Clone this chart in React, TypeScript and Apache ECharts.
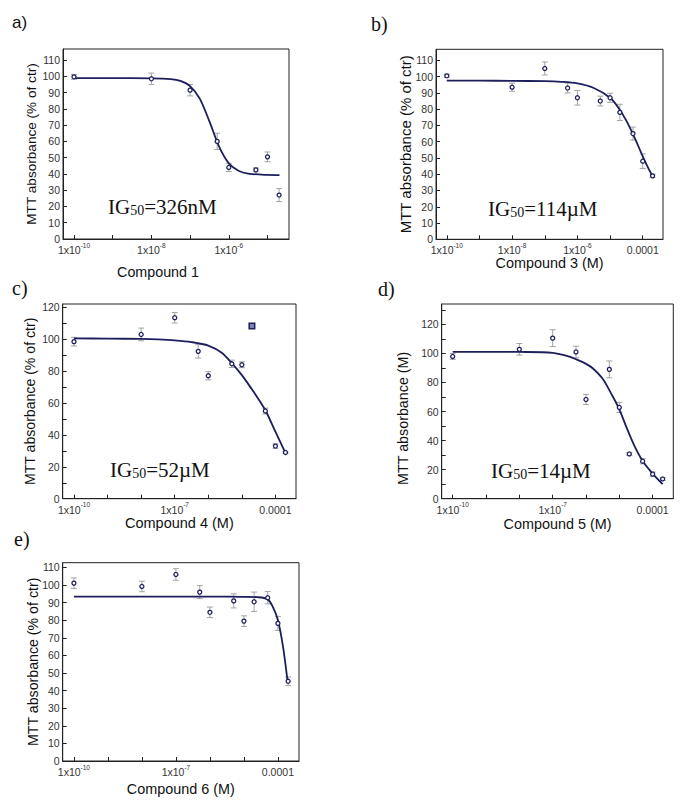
import React, { useEffect, useRef } from 'react';
import * as echarts from 'echarts';

// x values are log10 of the concentration (M)
const concLog = [-10, -8, -7, -6.3, -6, -5.3, -5, -4.7, -4.3, -4, -3.7];

// Panel a – Compound 1
const aLogC = [-10, -8, -7, -6.3, -6, -5.3, -5, -4.7];
const aMean = [99.7, 98.5, 91.5, 60, 44, 42.5, 50.5, 27];
const aErr = [1.5, 3.5, 3.5, 5, 2.5, 1.2, 3, 4];
const aFitX = [-10, -9, -8, -7.5, -7.25, -7, -6.75, -6.5, -6.25, -6, -5.75, -5.5, -5, -4.69];
const aFitY = [98.9, 98.9, 98.8, 98.3, 97.2, 94, 86.3, 72.3, 56.8, 46.6, 42, 40.2, 39.4, 39.3];

// Panel b – Compound 3
const bMean = [100.5, 93.5, 105, 93, 87, 85, 87, 78, 65, 48, 39];
const bErr = [1, 2.5, 4, 3, 4.5, 3, 2.8, 5, 4, 4.5, 1];
const bFitX = [-10, -9, -8, -7, -6.5, -6, -5.5, -5, -4.75, -4.5, -4.25, -4, -3.8, -3.67];
const bFitY = [97.5, 97.5, 97.4, 97.2, 96.8, 95.8, 93, 87, 81, 72.8, 62.5, 51, 42.5, 37.8];

// Panel c – Compound 4
const cLogC = [-10, -8, -7, -6.3, -6, -5.3, -5, -4.3, -4, -3.7];
const cMean = [98.5, 103, 113.5, 92.4, 77.1, 84.6, 84, 55, 33, 29];
const cErr = [2.7, 4, 3.3, 4.2, 2.6, 2.3, 1.8, 1.8, 1.4, 0.6];
const cSquareLogC = [-4.7];
const cSquareMean = [108.3];
const cSquareErr = [0.8];
const cFitX = [-10, -9, -8, -7.5, -7, -6.5, -6, -5.6, -5.3, -5, -4.65, -4.3, -4, -3.71];
const cFitY = [100.5, 100.4, 100.2, 99.9, 99.3, 98.2, 96, 91.5, 85, 77.5, 67, 55.5, 42, 29];

// Panel d – Compound 5
const dMean = [97.9, 102.8, 110.5, 101, 68.3, 89, 62.8, 30.8, 25.8, 16.9, 13.6];
const dErr = [2, 4, 5.8, 4, 3.5, 5.8, 3.5, 1, 1.8, 1.5, 1];
const dFitX = [-10, -9, -8, -7, -6.5, -6.2, -6, -5.8, -5.5, -5.2, -5, -4.8, -4.55, -4.3, -4, -3.7];
const dFitY = [101.1, 101.1, 101, 100.4, 97.8, 95, 92.8, 89.8, 82.5, 70.5, 61.5, 50, 36.5, 26, 17.3, 10];

// Panel e – Compound 6
const eMean = [101.1, 99.2, 106, 96, 84.5, 91, 79.5, 90.5, 92.8, 78.2, 45.3];
const eErr = [3, 3, 3.3, 3.7, 3, 4, 3, 5.5, 3.5, 4, 2.5];
const eFitX = [-10, -8, -6, -5, -4.6, -4.31, -4.16, -4, -3.85, -3.71];
const eFitY = [93.4, 93.4, 93.4, 93.3, 93.1, 92, 88, 80, 65, 44.3];

// Ticks and tick labels
const aXTicks = [-10, -9, -8, -7, -6, -5];
const aXLabels = [-10, -8, -6];
const bXTicks = [-10, -9, -8, -7, -6, -5, -4];
const bXLabels = [-10, -8, -6, -4];
const cdeXTicks = [-10, -9, -8, -7, -6, -5, -4];
const cdeXLabels = [-10, -7, -4];
const y110Ticks = [0, 10, 20, 30, 40, 50, 60, 70, 80, 90, 100, 110];
const c120Ticks = [0, 10, 20, 30, 40, 50, 60, 70, 80, 90, 100, 110, 120];
const d130Ticks = [0, 10, 20, 30, 40, 50, 60, 70, 80, 90, 100, 110, 120, 130];
const by20Labels = [0, 20, 40, 60, 80, 100, 120];

const SANS = 'Liberation Sans';
const SERIF = 'Liberation Serif';
const NAVY = '#1c1f5c';
const FRAME = '#222';

type Panel = {
  grid: { left: number; top: number; width: number; height: number };
  xMin: number; xMax: number; yMax: number;
  xTicks: number[]; xLabels: number[]; yTicks: number[]; yLabels: number[];
  yName: string; yNameSize: number; yNameGap: number; yNamePad: number[];
  xName: string; xNameSize: number; xNameGap: number; xNamePad: number[];
  logC: number[]; mean: number[]; err: number[]; fitX: number[]; fitY: number[];
};

const panels: Panel[] = [
  {
    grid: { left: 63, top: 49, width: 226, height: 190 },
    xMin: -10.284, xMax: -4.444, yMax: 116.8,
    xTicks: aXTicks, xLabels: aXLabels, yTicks: y110Ticks, yLabels: y110Ticks,
    yName: 'MTT absorbance (% of ctr)', yNameSize: 13.6, yNameGap: 24.5, yNamePad: [0, 0, 0, 0],
    xName: 'Compound 1', xNameSize: 14.3, xNameGap: 26, xNamePad: [0, 36, 0, 0],
    logC: aLogC, mean: aMean, err: aErr, fitX: aFitX, fitY: aFitY,
  },
  {
    grid: { left: 436, top: 49.3, width: 227, height: 190 },
    xMin: -10.33, xMax: -3.38, yMax: 116.8,
    xTicks: bXTicks, xLabels: bXLabels, yTicks: y110Ticks, yLabels: y110Ticks,
    yName: 'MTT absorbance (% of ctr)', yNameSize: 15, yNameGap: 23.5, yNamePad: [0, 0, 0, 0],
    xName: 'Compound 3 (M)', xNameSize: 14.4, xNameGap: 16.5, xNamePad: [0, 0, 0, 0],
    logC: concLog, mean: bMean, err: bErr, fitX: bFitX, fitY: bFitY,
  },
  {
    grid: { left: 62.7, top: 304, width: 233.3, height: 194.7 },
    xMin: -10.337, xMax: -3.387, yMax: 122.1,
    xTicks: cdeXTicks, xLabels: cdeXLabels, yTicks: c120Ticks, yLabels: by20Labels,
    yName: 'MTT absorbance (% of ctr)', yNameSize: 14.1, yNameGap: 25.5, yNamePad: [0, 0, 0, 0],
    xName: 'Compound 4 (M)', xNameSize: 14.5, xNameGap: 16.5, xNamePad: [0, 0, 0, 0],
    logC: cLogC, mean: cMean, err: cErr, fitX: cFitX, fitY: cFitY,
  },
  {
    grid: { left: 441.7, top: 304, width: 231.6, height: 194.7 },
    xMin: -10.33, xMax: -3.38, yMax: 134,
    xTicks: cdeXTicks, xLabels: cdeXLabels, yTicks: d130Ticks, yLabels: by20Labels,
    yName: 'MTT absorbance (M)', yNameSize: 14.3, yNameGap: 32, yNamePad: [0, 34, 0, 0],
    xName: 'Compound 5 (M)', xNameSize: 14.4, xNameGap: 18.5, xNamePad: [0, 0, 0, 0],
    logC: concLog, mean: dMean, err: dErr, fitX: dFitX, fitY: dFitY,
  },
  {
    grid: { left: 62.7, top: 562.7, width: 236.3, height: 198.3 },
    xMin: -10.33, xMax: -3.38, yMax: 112.7,
    xTicks: cdeXTicks, xLabels: cdeXLabels, yTicks: y110Ticks, yLabels: y110Ticks,
    yName: 'MTT absorbance (% of ctr)', yNameSize: 14.2, yNameGap: 23, yNamePad: [0, 0, 0, 0],
    xName: 'Compound 6 (M)', xNameSize: 14.4, xNameGap: 21, xNamePad: [0, 0, 0, 0],
    logC: concLog, mean: eMean, err: eErr, fitX: eFitX, fitY: eFitY,
  },
];

const errorBarRender = (params: any, api: any) => {
  const x = api.value(0);
  const y = api.value(1);
  const e = api.value(2);
  const top = api.coord([x, y + e]);
  const bot = api.coord([x, y - e]);
  const cap = 3;
  const style = { stroke: '#9a9a9a', lineWidth: 0.9 };
  return {
    type: 'group',
    children: [
      { type: 'line', shape: { x1: top[0], y1: top[1], x2: bot[0], y2: bot[1] }, style },
      { type: 'line', shape: { x1: top[0] - cap, y1: top[1], x2: top[0] + cap, y2: top[1] }, style },
      { type: 'line', shape: { x1: bot[0] - cap, y1: bot[1], x2: bot[0] + cap, y2: bot[1] }, style },
    ],
  };
};

const xLabelFormatter = (v: number) =>
  v === -4 ? '{n|0.0001}' : '{n|1x10}{s|' + String(v) + '}';

function buildOption() {
  const grid: any[] = [];
  const xAxis: any[] = [];
  const yAxis: any[] = [];
  const series: any[] = [];

  panels.forEach((p, i) => {
    grid.push({ ...p.grid, show: true, borderColor: FRAME, borderWidth: 1, containLabel: false });
    xAxis.push({
      gridIndex: i,
      type: 'value',
      min: p.xMin,
      max: p.xMax,
      axisLine: { show: true, onZero: false, lineStyle: { color: FRAME, width: 1 } },
      axisTick: { show: true, inside: true, length: 4, customValues: p.xTicks, lineStyle: { color: FRAME, width: 1 } },
      axisLabel: {
        show: true,
        customValues: p.xLabels,
        margin: 2.5,
        formatter: xLabelFormatter,
        rich: {
          n: { fontFamily: SANS, fontSize: 10.5, lineHeight: 14, color: '#333', verticalAlign: 'bottom' },
          s: { fontFamily: SANS, fontSize: 6.5, lineHeight: 7, color: '#333', verticalAlign: 'top' },
        },
      },
      splitLine: { show: false },
      name: p.xName,
      nameLocation: 'middle',
      nameGap: p.xNameGap,
      nameMoveOverlap: false,
      nameTextStyle: { fontFamily: SANS, fontSize: p.xNameSize, color: '#111', padding: p.xNamePad },
    });
    yAxis.push({
      gridIndex: i,
      type: 'value',
      min: 0,
      max: p.yMax,
      axisLine: { show: true, onZero: false, lineStyle: { color: FRAME, width: 1 } },
      axisTick: { show: true, inside: true, length: 4, customValues: p.yTicks, lineStyle: { color: FRAME, width: 1 } },
      axisLabel: {
        show: true,
        customValues: p.yLabels,
        margin: 3,
        fontFamily: SANS,
        fontSize: 10.5,
        color: '#333',
      },
      splitLine: { show: false },
      name: p.yName,
      nameLocation: 'middle',
      nameGap: p.yNameGap,
      nameMoveOverlap: false,
      nameTextStyle: { fontFamily: SANS, fontSize: p.yNameSize, color: '#111', padding: p.yNamePad },
    });

    series.push({
      type: 'custom',
      xAxisIndex: i,
      yAxisIndex: i,
      renderItem: errorBarRender,
      data: p.logC.map((x, j) => [x, p.mean[j], p.err[j]]),
      z: 2,
      silent: true,
    });
    series.push({
      type: 'line',
      xAxisIndex: i,
      yAxisIndex: i,
      data: p.fitX.map((x, j) => [x, p.fitY[j]]),
      smooth: 0.3,
      symbol: 'none',
      lineStyle: { color: NAVY, width: 1.8 },
      z: 3,
      silent: true,
    });
    series.push({
      type: 'scatter',
      xAxisIndex: i,
      yAxisIndex: i,
      data: p.logC.map((x, j) => [x, p.mean[j]]),
      symbol: 'circle',
      symbolSize: 4,
      itemStyle: { color: '#ffffff', borderColor: NAVY, borderWidth: 1.3, opacity: 1 },
      z: 4,
      silent: true,
    });
  });

  // extra square marker in panel c
  series.push({
    type: 'custom',
    xAxisIndex: 2,
    yAxisIndex: 2,
    renderItem: errorBarRender,
    data: cSquareLogC.map((x, j) => [x, cSquareMean[j], cSquareErr[j]]),
    z: 2,
    silent: true,
  });
  series.push({
    type: 'scatter',
    xAxisIndex: 2,
    yAxisIndex: 2,
    data: cSquareLogC.map((x, j) => [x, cSquareMean[j]]),
    symbol: 'rect',
    symbolSize: 5.5,
    itemStyle: { color: '#8084b8', borderColor: NAVY, borderWidth: 1.5, opacity: 1 },
    z: 4,
    silent: true,
  });

  const letterStyle = (family: string, size: number) => ({
    fontFamily: family, fontSize: size, fontWeight: 'normal', color: '#111',
  });
  const igRich = {
    b: { fontFamily: SERIF, fontSize: 21, lineHeight: 21, fontWeight: 'normal', color: '#111', verticalAlign: 'bottom' },
    s: { fontFamily: SERIF, fontSize: 14, lineHeight: 14, fontWeight: 'normal', color: '#111', verticalAlign: 'bottom' },
  };
  const title = [
    { text: 'a)', left: 12, top: 14, padding: 0, textStyle: letterStyle(SANS, 17) },
    { text: 'b)', left: 371, top: 14, padding: 0, textStyle: letterStyle(SERIF, 20) },
    { text: 'c)', left: 12, top: 278, padding: 0, textStyle: letterStyle(SERIF, 20) },
    { text: 'd)', left: 378, top: 279, padding: 0, textStyle: letterStyle(SERIF, 20) },
    { text: 'e)', left: 14, top: 529, padding: 0, textStyle: letterStyle(SERIF, 20) },
    { text: '{b|IG}{s|50}{b|=326nM}', left: 108, top: 196.5, padding: 0, textStyle: { rich: igRich } },
    { text: '{b|IG}{s|50}{b|=114µM}', left: 488, top: 198, padding: 0, textStyle: { rich: igRich } },
    { text: '{b|IG}{s|50}{b|=52µM}', left: 110, top: 459, padding: 0, textStyle: { rich: igRich } },
    { text: '{b|IG}{s|50}{b|=14µM}', left: 491, top: 460, padding: 0, textStyle: { rich: igRich } },
  ];

  return {
    animation: false,
    backgroundColor: '#ffffff',
    textStyle: { fontFamily: SANS },
    title,
    grid,
    xAxis,
    yAxis,
    series,
  };
}

export default function App() {
  const ref = useRef<HTMLDivElement>(null);
  useEffect(() => {
    if (!ref.current) return;
    const chart = echarts.init(ref.current, null, { renderer: 'svg' });
    chart.setOption(buildOption() as any);
    return () => chart.dispose();
  }, []);
  return (
    <div
      ref={ref}
      style={{ position: 'fixed', left: 0, top: 0, width: 685, height: 807, background: '#fff' }}
    />
  );
}
